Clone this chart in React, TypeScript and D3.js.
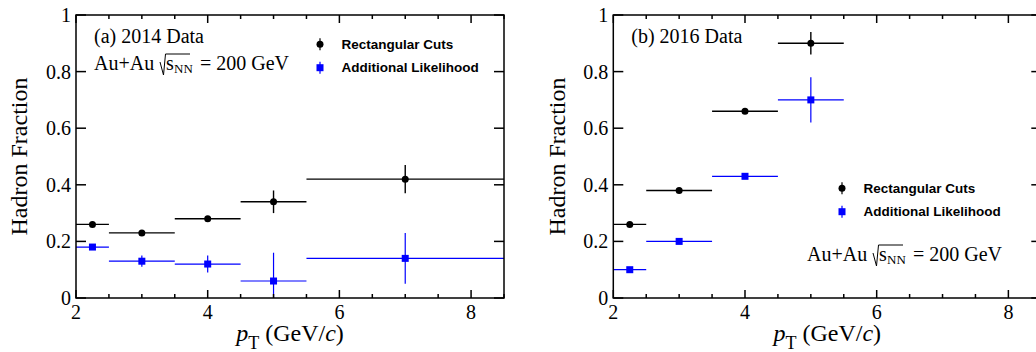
import React from 'react';
import { scaleLinear, range } from 'd3';

// 2014 data, panel (a)
const binLowA = [2, 2.5, 3.5, 4.5, 5.5];
const binHighA = [2.5, 3.5, 4.5, 5.5, 8.5];
const ptA = [2.25, 3, 4, 5, 7];
const rectA = [0.26, 0.23, 0.28, 0.34, 0.42];
const rectErrA = [0.008, 0.008, 0.008, 0.04, 0.05];
const likeA = [0.18, 0.13, 0.12, 0.06, 0.14];
const likeErrA = [0.008, 0.02, 0.03, 0.1, 0.09];

// 2016 data, panel (b)
const binLowB = [2, 2.5, 3.5, 4.5];
const binHighB = [2.5, 3.5, 4.5, 5.5];
const ptB = [2.25, 3, 4, 5];
const rectB = [0.26, 0.38, 0.66, 0.9];
const rectErrB = [0.008, 0.008, 0.008, 0.04];
const likeB = [0.1, 0.2, 0.43, 0.7];
const likeErrB = [0.008, 0.008, 0.008, 0.08];

const xMajor = [2, 4, 6, 8];
const xMinor = range(2, 8.51, 0.5);
const yTicks = [0, 0.2, 0.4, 0.6, 0.8, 1];
const yTickLabels = ['0', '0.2', '0.4', '0.6', '0.8', '1'];
const seriesNames = ['Rectangular Cuts', 'Additional Likelihood'];

const SERIF = '"Times New Roman", "Liberation Serif", Times, serif';
const SANS = '"Liberation Sans", Arial, sans-serif';
const BLUE = '#0000ff';

const TOP = 15;
const BOTTOM = 298;
const PW = 428;

type Series = { lo: number[]; hi: number[]; x: number[]; v: number[]; e: number[] };

const SqrtText = ({ x, y }: { x: number; y: number }) => (
  <g fontFamily={SERIF} fill="#000">
    <text x={x} y={y} fontSize={20}>Au+Au</text>
    <path
      d={`M${x + 66},${y - 8} L${x + 69.5},${y + 5} L${x + 71.5},${y - 16} L${x + 96},${y - 16}`}
      fill="none"
      stroke="#000"
      strokeWidth={1}
    />
    <text x={x + 72} y={y} fontSize={20}>s</text>
    <text x={x + 80} y={y + 3} fontSize={13}>NN</text>
    <text x={x + 106} y={y} fontSize={20}>= 200 GeV</text>
  </g>
);

const Panel = ({
  x0,
  label,
  rect,
  like,
  legendX,
  legendY,
  sqrtX,
  sqrtY,
}: {
  x0: number;
  label: string;
  rect: Series;
  like: Series;
  legendX: number;
  legendY: number;
  sqrtX: number;
  sqrtY: number;
}) => {
  const x = scaleLinear().domain([2, 8.5]).range([x0, x0 + PW]);
  const y = scaleLinear().domain([0, 1]).range([BOTTOM, TOP]);
  const cy = (v: number) => y(Math.max(0, Math.min(1, v)));

  return (
    <g>
      {/* data: rectangular cuts */}
      {rect.x.map((px, i) => (
        <g key={'r' + i} stroke="#000" strokeWidth={1.4}>
          <line x1={x(rect.lo[i])} x2={x(rect.hi[i])} y1={y(rect.v[i])} y2={y(rect.v[i])} />
          <line x1={x(px)} x2={x(px)} y1={cy(rect.v[i] - rect.e[i])} y2={cy(rect.v[i] + rect.e[i])} />
          <circle cx={x(px)} cy={y(rect.v[i])} r={3.5} fill="#000" stroke="none" />
        </g>
      ))}
      {/* data: additional likelihood */}
      {like.x.map((px, i) => (
        <g key={'l' + i} stroke={BLUE} strokeWidth={1.2}>
          <line x1={x(like.lo[i])} x2={x(like.hi[i])} y1={y(like.v[i])} y2={y(like.v[i])} />
          <line x1={x(px)} x2={x(px)} y1={cy(like.v[i] - like.e[i])} y2={cy(like.v[i] + like.e[i])} />
          <rect x={x(px) - 3.5} y={y(like.v[i]) - 3.5} width={7} height={7} fill={BLUE} stroke="none" />
        </g>
      ))}

      {/* frame */}
      <rect x={x0} y={TOP} width={PW} height={BOTTOM - TOP} fill="none" stroke="#000" strokeWidth={1.5} />
      {xMinor.map((t) => {
        const len = xMajor.includes(t) ? 8 : 4;
        return (
          <g key={'xt' + t} stroke="#000" strokeWidth={1.5}>
            <line x1={x(t)} x2={x(t)} y1={BOTTOM} y2={BOTTOM - len} />
            <line x1={x(t)} x2={x(t)} y1={TOP} y2={TOP + len} />
          </g>
        );
      })}
      {yTicks.map((t) => (
        <g key={'yt' + t} stroke="#000" strokeWidth={1.5}>
          <line x1={x0} x2={x0 + 10} y1={y(t)} y2={y(t)} />
          <line x1={x0 + PW} x2={x0 + PW - 10} y1={y(t)} y2={y(t)} />
        </g>
      ))}

      {/* tick labels */}
      {yTicks.map((t, i) => (
        <text
          key={'yl' + t}
          x={x0 - 5}
          y={y(t)}
          dy="0.35em"
          textAnchor="end"
          fontFamily={SERIF}
          fontSize={20}
        >
          {yTickLabels[i]}
        </text>
      ))}
      {xMajor.map((t) => (
        <text key={'xl' + t} x={x(t)} y={BOTTOM + 21} textAnchor="middle" fontFamily={SERIF} fontSize={20}>
          {t}
        </text>
      ))}

      {/* axis titles */}
      <text
        transform={`translate(${x0 - 57},${(TOP + BOTTOM) / 2}) rotate(-90)`}
        textAnchor="middle"
        dy="0.35em"
        fontFamily={SERIF}
        fontSize={24}
      >
        Hadron Fraction
      </text>
      <text x={x0 + PW / 2} y={BOTTOM + 43} textAnchor="middle" fontFamily={SERIF} fontSize={24}>
        <tspan fontStyle="italic">p</tspan>
        <tspan fontSize={18} dy={8}>T</tspan>
        <tspan dy={-8}> (GeV/</tspan>
        <tspan fontStyle="italic">c</tspan>
        <tspan>)</tspan>
      </text>

      {/* labels */}
      <text x={x0 + 18} y={43} fontFamily={SERIF} fontSize={20}>
        {label}
      </text>
      <SqrtText x={sqrtX} y={sqrtY} />

      {/* legend */}
      <g>
        <line x1={legendX} x2={legendX} y1={legendY - 6} y2={legendY + 6} stroke="#000" strokeWidth={1.2} />
        <circle cx={legendX} cy={legendY} r={3.5} fill="#000" />
        <line x1={legendX} x2={legendX} y1={legendY + 23.4 - 6} y2={legendY + 23.4 + 6} stroke={BLUE} strokeWidth={1.2} />
        <rect x={legendX - 3.5} y={legendY + 23.4 - 3.5} width={7} height={7} fill={BLUE} />
        {seriesNames.map((n, i) => (
          <text
            key={n}
            x={legendX + 21.5}
            y={legendY + i * 23.4}
            dy="0.35em"
            fontFamily={SANS}
            fontWeight="bold"
            fontSize={13.5}
          >
            {n}
          </text>
        ))}
      </g>
    </g>
  );
};

export default function App() {
  return (
    <svg
      width={1036}
      height={352}
      style={{ position: 'absolute', left: 0, top: 0, background: '#fff' }}
    >
      <rect width={1036} height={352} fill="#fff" />
      <Panel
        x0={76}
        label="(a) 2014 Data"
        rect={{ lo: binLowA, hi: binHighA, x: ptA, v: rectA, e: rectErrA }}
        like={{ lo: binLowA, hi: binHighA, x: ptA, v: likeA, e: likeErrA }}
        legendX={320}
        legendY={44.3}
        sqrtX={94}
        sqrtY={70}
      />
      <Panel
        x0={613.3}
        label="(b) 2016 Data"
        rect={{ lo: binLowB, hi: binHighB, x: ptB, v: rectB, e: rectErrB }}
        like={{ lo: binLowB, hi: binHighB, x: ptB, v: likeB, e: likeErrB }}
        legendX={842}
        legendY={188.3}
        sqrtX={807}
        sqrtY={261}
      />
    </svg>
  );
}
